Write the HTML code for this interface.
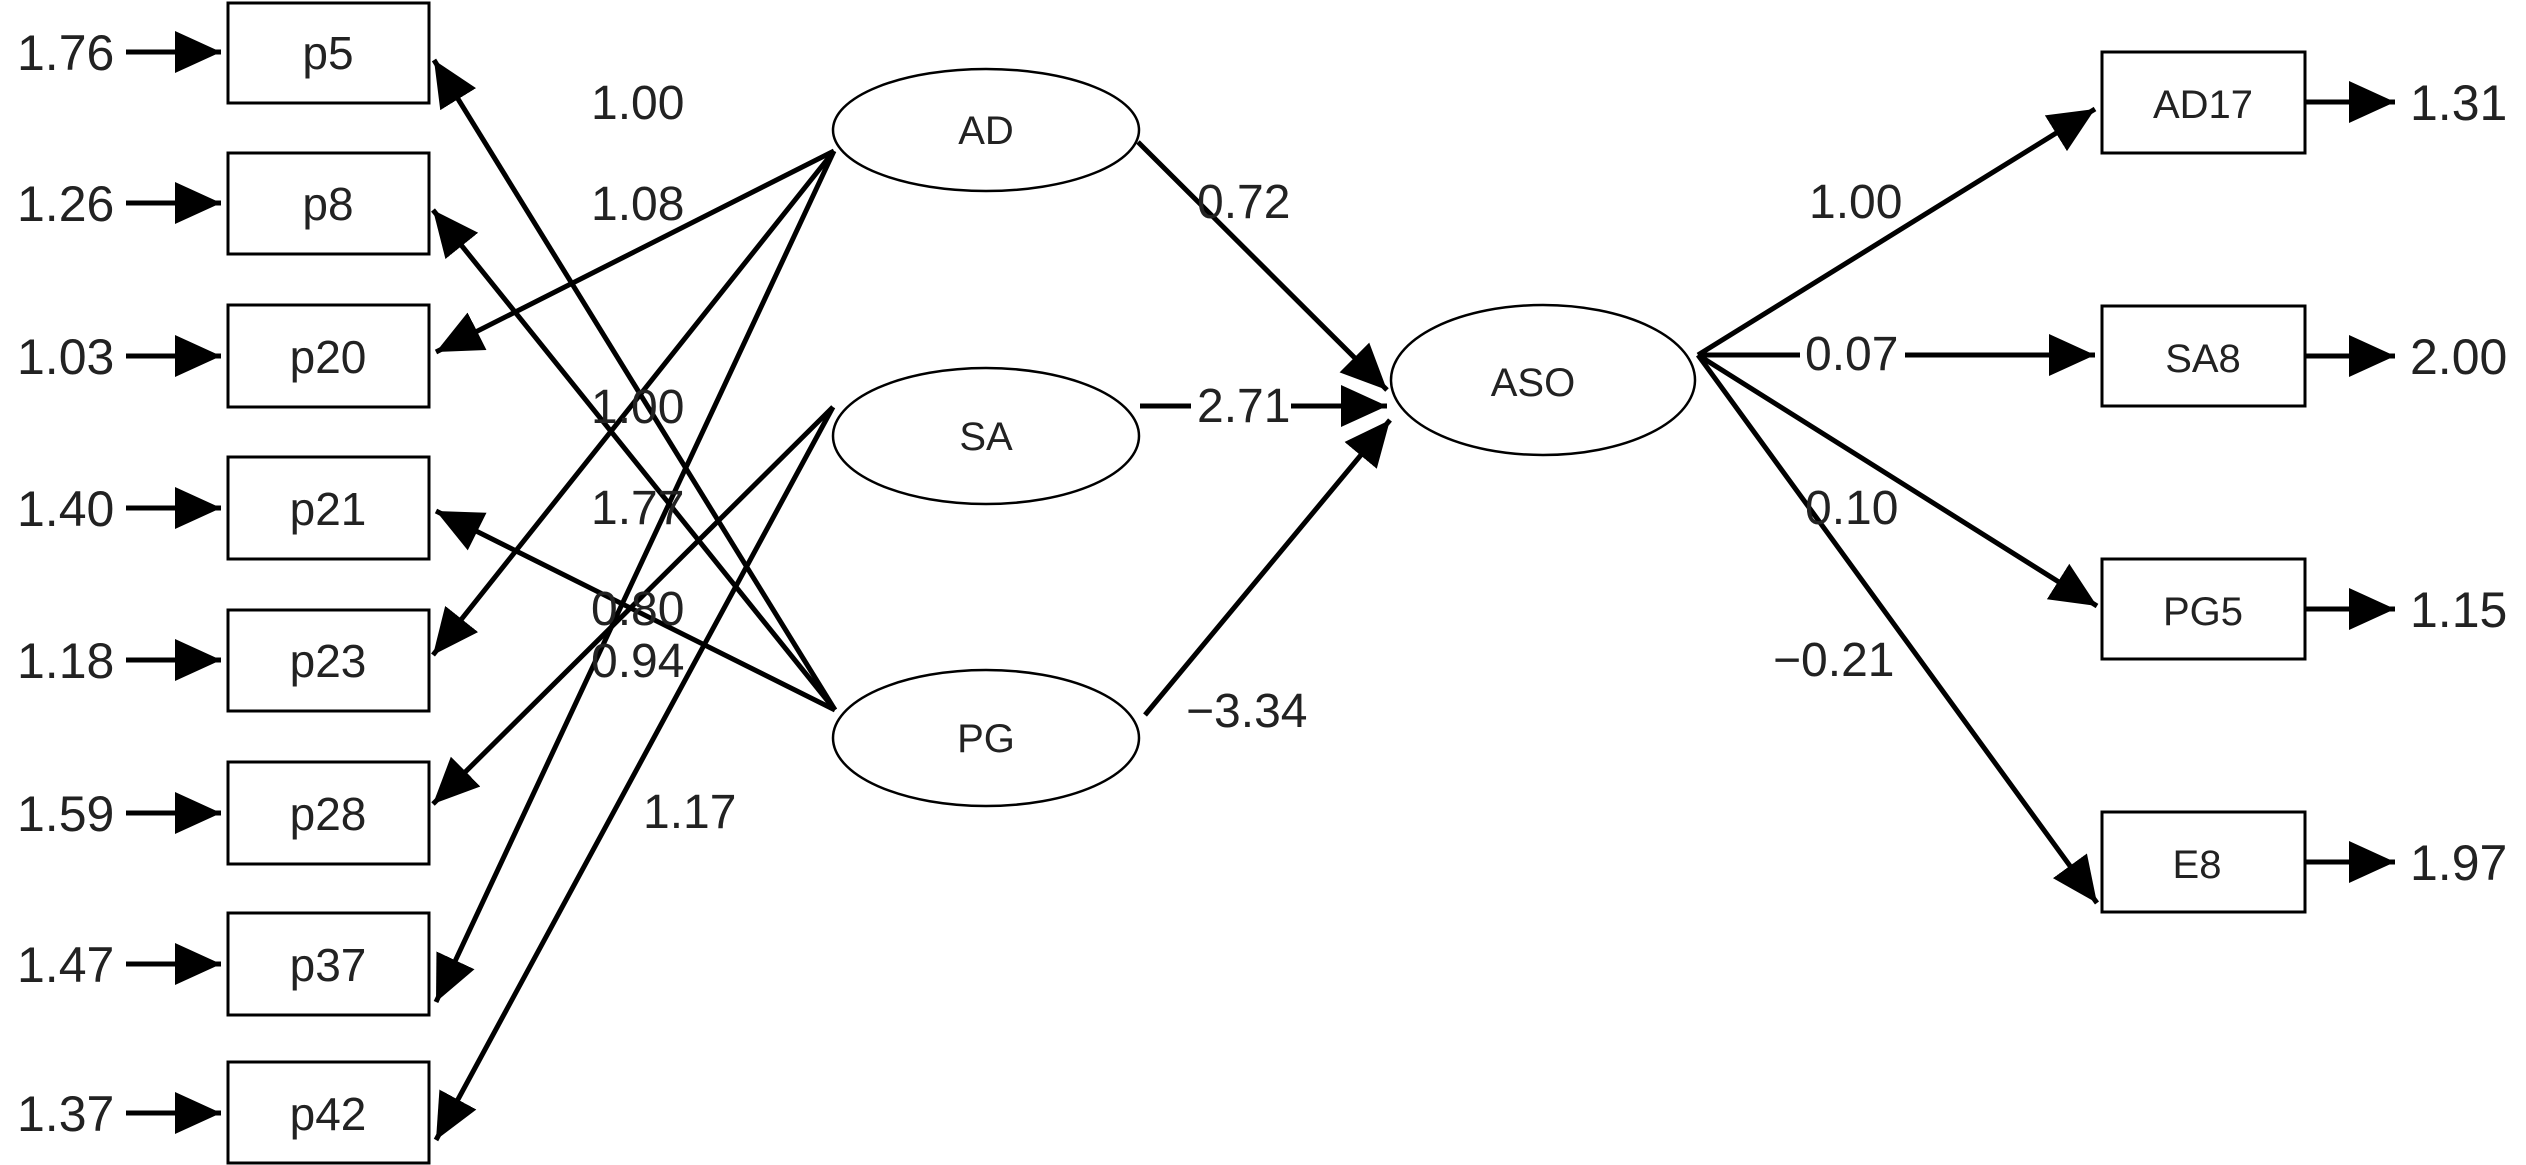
<!DOCTYPE html>
<html><head><meta charset="utf-8"><style>
html,body{margin:0;padding:0;background:#fff;}
svg{display:block;}
text{font-family:"Liberation Sans",sans-serif;fill:#222;}
</style></head><body>
<svg width="2526" height="1165" viewBox="0 0 2526 1165" xmlns="http://www.w3.org/2000/svg">
<defs>
<marker id="a" markerUnits="userSpaceOnUse" markerWidth="50" markerHeight="44" refX="46" refY="21" orient="auto">
<path d="M0,0 L46,21 L0,42 z" fill="#000"/>
</marker>
</defs>
<g stroke="#000" stroke-width="3" fill="none">
<rect x="228" y="3" width="201" height="100"/>
<rect x="228" y="153" width="201" height="101"/>
<rect x="228" y="305" width="201" height="102"/>
<rect x="228" y="457" width="201" height="102"/>
<rect x="228" y="610" width="201" height="101"/>
<rect x="228" y="762" width="201" height="102"/>
<rect x="228" y="913" width="201" height="102"/>
<rect x="228" y="1062" width="201" height="101"/>
<rect x="2102" y="52" width="203" height="101"/>
<rect x="2102" y="306" width="203" height="100"/>
<rect x="2102" y="559" width="203" height="100"/>
<rect x="2102" y="812" width="203" height="100"/>
</g>
<g stroke="#000" stroke-width="2.5" fill="none">
<ellipse cx="986" cy="130" rx="153" ry="61"/>
<ellipse cx="986" cy="436" rx="153" ry="68"/>
<ellipse cx="986" cy="738" rx="153" ry="68"/>
<ellipse cx="1543" cy="380" rx="152" ry="75"/>
</g>
<g stroke="#000" stroke-width="5" fill="none" marker-end="url(#a)">
<line x1="126" y1="52" x2="221" y2="52"/>
<line x1="126" y1="203" x2="221" y2="203"/>
<line x1="126" y1="356" x2="221" y2="356"/>
<line x1="126" y1="508" x2="221" y2="508"/>
<line x1="126" y1="660" x2="221" y2="660"/>
<line x1="126" y1="813" x2="221" y2="813"/>
<line x1="126" y1="964" x2="221" y2="964"/>
<line x1="126" y1="1113" x2="221" y2="1113"/>
<line x1="2305" y1="102" x2="2395" y2="102"/>
<line x1="2305" y1="356" x2="2395" y2="356"/>
<line x1="2305" y1="609" x2="2395" y2="609"/>
<line x1="2305" y1="862" x2="2395" y2="862"/>
<line x1="834" y1="151" x2="436" y2="352"/>
<line x1="834" y1="151" x2="433" y2="655"/>
<line x1="834" y1="151" x2="436" y2="1002"/>
<line x1="833" y1="407" x2="433" y2="804"/>
<line x1="833" y1="407" x2="436" y2="1140"/>
<line x1="835" y1="710" x2="434" y2="60"/>
<line x1="835" y1="710" x2="433" y2="210"/>
<line x1="835" y1="710" x2="436" y2="511"/>
<line x1="1138" y1="142" x2="1387" y2="390"/>
<line x1="1140" y1="406" x2="1387" y2="406"/>
<line x1="1145" y1="715" x2="1390" y2="420"/>
<line x1="1698" y1="355" x2="2095" y2="109"/>
<line x1="1698" y1="355" x2="2095" y2="355"/>
<line x1="1698" y1="355" x2="2097" y2="606"/>
<line x1="1698" y1="355" x2="2097" y2="903"/>
</g>
<rect x="1191" y="380" width="100" height="50" fill="#fff"/>
<rect x="1800" y="330" width="105" height="46" fill="#fff"/>
<g font-size="50">
<text x="17" y="70">1.76</text>
<text x="17" y="221">1.26</text>
<text x="17" y="374">1.03</text>
<text x="17" y="526">1.40</text>
<text x="17" y="678">1.18</text>
<text x="17" y="831">1.59</text>
<text x="17" y="982">1.47</text>
<text x="17" y="1131">1.37</text>
<text x="2410" y="120">1.31</text>
<text x="2410" y="374">2.00</text>
<text x="2410" y="627">1.15</text>
<text x="2410" y="880">1.97</text>
</g>
<g font-size="48">
<text x="591" y="119">1.00</text>
<text x="591" y="220">1.08</text>
<text x="591" y="423">1.00</text>
<text x="591" y="524">1.77</text>
<text x="591" y="625">0.80</text>
<text x="591" y="677">0.94</text>
<text x="643" y="828">1.17</text>
<text x="1197" y="218">0.72</text>
<text x="1197" y="422">2.71</text>
<text x="1186" y="727">−3.34</text>
<text x="1809" y="218">1.00</text>
<text x="1805" y="370">0.07</text>
<text x="1805" y="524">0.10</text>
<text x="1773" y="676">−0.21</text>
</g>
<g font-size="46" text-anchor="middle">
<text x="328" y="69">p5</text>
<text x="328" y="220">p8</text>
<text x="328" y="373">p20</text>
<text x="328" y="525">p21</text>
<text x="328" y="677">p23</text>
<text x="328" y="830">p28</text>
<text x="328" y="981">p37</text>
<text x="328" y="1130">p42</text>
</g>
<g font-size="40" text-anchor="middle">
<text x="986" y="144">AD</text>
<text x="986" y="450">SA</text>
<text x="986" y="752">PG</text>
<text x="1533" y="396">ASO</text>
<text x="2203" y="118">AD17</text>
<text x="2203" y="372">SA8</text>
<text x="2203" y="625">PG5</text>
<text x="2197" y="878">E8</text>
</g>
</svg>
</body></html>
